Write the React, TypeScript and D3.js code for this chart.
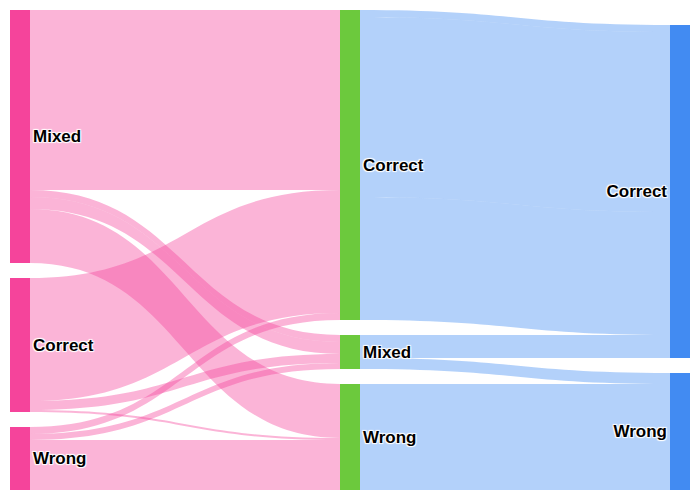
import React from "react";
import * as d3 from "d3";

const W = 700;
const H = 500;
const margin = { top: 10, right: 10, bottom: 10, left: 10 };
const nodeWidth = 20;
const nodePad = 15;

// node names per column
const firstAnswer = ["Mixed", "Correct", "Wrong"];
const afterReview = ["Correct", "Mixed", "Wrong"];
const finalAnswer = ["Correct", "Wrong"];
const stages = [firstAnswer, afterReview, finalAnswer];

const nodeColors = ["#f5449b", "#6cc93d", "#428bf2"];
const linkColors = ["rgba(245,68,155,0.4)", "rgba(66,139,242,0.4)"];

// [source, target, value] -- repeated pairs are separate links
const firstToReview: [string, string, number][] = [
  ["Mixed", "Correct", 180],
  ["Mixed", "Mixed", 7],
  ["Mixed", "Mixed", 12],
  ["Mixed", "Wrong", 54],
  ["Correct", "Correct", 123],
  ["Correct", "Mixed", 9],
  ["Correct", "Wrong", 2],
  ["Wrong", "Correct", 7],
  ["Wrong", "Mixed", 6],
  ["Wrong", "Wrong", 50],
];
const reviewToFinal: [string, string, number][] = [
  ["Correct", "Correct", 7],
  ["Correct", "Correct", 180],
  ["Correct", "Correct", 123],
  ["Mixed", "Correct", 7],
  ["Mixed", "Correct", 12],
  ["Mixed", "Correct", 4],
  ["Mixed", "Wrong", 11],
  ["Wrong", "Wrong", 49],
  ["Wrong", "Wrong", 57],
];
const stageLinks = [firstToReview, reviewToFinal];

type Node = {
  id: string; name: string; stage: number; value: number;
  x0: number; x1: number; y0: number; y1: number;
  out: Link[]; inc: Link[];
};
type Link = { source: Node; target: Node; value: number; stage: number; sy: number; ty: number; w: number };

function layout() {
  const nodes = new Map<string, Node>();
  const x = d3.scaleLinear().domain([0, stages.length - 1])
    .range([margin.left, W - margin.right - nodeWidth]);
  stages.forEach((names, s) => names.forEach(name => {
    nodes.set(`${s}:${name}`, {
      id: `${s}:${name}`, name, stage: s, value: 0,
      x0: x(s), x1: x(s) + nodeWidth, y0: 0, y1: 0, out: [], inc: []
    });
  }));
  const links: Link[] = [];
  stageLinks.forEach((list, s) => list.forEach(([a, b, v]) => {
    const l: Link = { source: nodes.get(`${s}:${a}`)!, target: nodes.get(`${s + 1}:${b}`)!, value: v, stage: s, sy: 0, ty: 0, w: 0 };
    l.source.out.push(l); l.target.inc.push(l);
    links.push(l);
  }));
  nodes.forEach(n => {
    n.value = Math.max(d3.sum(n.out, l => l.value), d3.sum(n.inc, l => l.value));
  });
  const innerH = H - margin.top - margin.bottom;
  const k = d3.min(stages, (names, s) =>
    (innerH - (names.length - 1) * nodePad) / d3.sum(names, nm => nodes.get(`${s}:${nm}`)!.value))!;
  const y = d3.scaleLinear().domain([0, 1]).range([0, k]);
  stages.forEach((names, s) => {
    const col = names.map(nm => nodes.get(`${s}:${nm}`)!);
    const colH = d3.sum(col, n => y(n.value)) + (col.length - 1) * nodePad;
    // last column sits at the bottom
    let cy = margin.top + (s === stages.length - 1 ? innerH - colH : 0);
    col.forEach(n => { n.y0 = cy; n.y1 = cy + y(n.value); cy = n.y1 + nodePad; });
  });
  nodes.forEach(n => {
    let oy = n.y0;
    n.out.slice().sort((a, b) => a.target.y0 - b.target.y0).forEach(l => { l.w = y(l.value); l.sy = oy; oy += l.w; });
    let iy = n.y0;
    n.inc.slice().sort((a, b) => a.source.y0 - b.source.y0).forEach(l => { l.ty = iy; iy += y(l.value); });
  });
  return { nodes: Array.from(nodes.values()), links };
}

function bandPath(l: Link) {
  const x0 = l.source.x1, x1 = l.target.x0;
  const xi = d3.interpolateNumber(x0, x1);
  const xc = xi(0.5);
  const s0 = l.sy, s1 = l.sy + l.w, t0 = l.ty, t1 = l.ty + l.w;
  const p = d3.path();
  p.moveTo(x0, s0);
  p.bezierCurveTo(xc, s0, xc, t0, x1, t0);
  p.lineTo(x1, t1);
  p.bezierCurveTo(xc, t1, xc, s1, x0, s1);
  p.closePath();
  return p.toString();
}

const halo = "1px 1px 1px #fff, -1px -1px 1px #fff, 1px -1px 1px #fff, -1px 1px 1px #fff";

export default function App() {
  const { nodes, links } = layout();
  const last = stages.length - 1;
  return (
    <svg width={W} height={H} style={{ position: "absolute", left: 0, top: 0, background: "#fff" }}>
      <g>
        {links.map((l, i) => (
          <path key={i} d={bandPath(l)} fill={linkColors[l.stage]} />
        ))}
      </g>
      <g>
        {nodes.map(n => (
          <rect key={n.id} x={n.x0} y={n.y0} width={nodeWidth} height={n.y1 - n.y0} fill={nodeColors[n.stage]} />
        ))}
      </g>
      <g fontFamily="'Liberation Sans', Arial, sans-serif" fontSize={17} fontWeight="bold" fill="#000">
        {nodes.map(n => (
          <text key={n.id}
            x={n.stage === last ? n.x0 - 3 : n.x1 + 3}
            y={(n.y0 + n.y1) / 2}
            dy="0.35em"
            textAnchor={n.stage === last ? "end" : "start"}
            style={{ textShadow: halo }}>
            {n.name}
          </text>
        ))}
      </g>
    </svg>
  );
}
